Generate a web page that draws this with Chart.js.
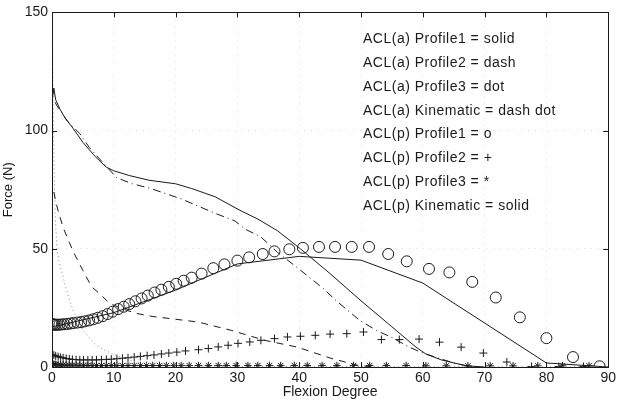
<!DOCTYPE html>
<html>
<head>
<meta charset="UTF-8">
<title>ACL force vs flexion</title>
<script src="https://cdn.jsdelivr.net/npm/chart.js@4.4.0/dist/chart.umd.min.js"></script>
<style>
  html, body { margin: 0; padding: 0; background: #fff; }
  #wrap { width: 619px; height: 401px; }
</style>
</head>
<body>
<div id="wrap"><canvas id="myChart" width="619" height="401"></canvas></div>
<script>
// ACL(a) Profile1 - solid
var a1Deg   = [0, 0.3, 0.6, 1.3, 2.2, 3.4, 5, 7, 8.8, 10, 12.5, 15.7, 20, 22.6, 26.4, 30.6, 33.3, 36.5, 40.2, 45, 50, 55, 58.9, 60.5, 63, 67, 70];
var a1Force = [112, 118, 113, 109, 105, 101, 95, 89, 84.5, 83, 81, 79, 77.5, 75.5, 72, 66, 62.6, 57.6, 50, 39.5, 28, 17, 8.4, 5.5, 3, 0.5, 0];
// ACL(a) Profile2 - dash
var a2Deg   = [0.3, 0.6, 1, 1.8, 2.6, 3.4, 5, 6.4, 7.7, 9.3, 11.5, 13.6, 16.2, 20, 23.7, 29, 34.4, 39.7, 45, 49.3, 52];
var a2Force = [74, 70, 66, 59, 54, 49, 40.8, 34, 31, 27, 24.5, 22.7, 21.4, 20.2, 19, 15.5, 11.3, 8.4, 3.8, 0.8, 0];
// ACL(a) Profile3 - dot
var a3Deg   = [0.05, 0.15, 0.3, 0.5, 0.8, 1.2, 1.8, 2.5, 3.4, 5, 7.2, 9.8, 14, 20, 30, 90];
var a3Force = [150, 120, 90, 65, 50, 44, 38, 31, 24, 15.5, 9, 5.5, 1.7, 0.5, 0.2, 0];
// ACL(a) Kinematic - dash dot
var aKDeg   = [0.5, 0.8, 2.5, 4.5, 6, 7.7, 10.5, 13, 16, 21, 26.4, 29.6, 31.2, 33.8, 36.5, 39.7, 44, 46, 49.8, 52.5, 55.2, 57.8, 60, 65, 68];
var aKForce = [112, 110.5, 104, 98.7, 93, 88, 80, 77.5, 75.5, 71, 65, 61.8, 58.4, 55, 48.5, 42, 33, 28, 19.7, 15.5, 12.2, 8.4, 5.9, 1.7, 0];
// ACL(p) Profile1 - o
var p1Deg   = [0, 0.2, 0.4, 0.6, 0.9, 1.2, 1.6, 2.0, 2.5, 3.0, 3.5, 4.1, 4.7, 5.3, 6.0, 6.7, 7.4, 8.2, 9.0, 9.8, 10.7, 11.6, 12.5, 13.5, 14.5, 15.5, 16.6, 17.7, 18.9, 20.1, 21.3, 22.6, 24.2, 26.1, 27.9, 30.0, 31.9, 34.1, 36.0, 38.4, 40.6, 43.2, 45.8, 48.5, 51.3, 54.4, 57.4, 61.0, 64.3, 68.0, 71.8, 75.7, 80.0, 84.3, 88.6];
var p1Force = [18.2, 18.0, 17.9, 17.9, 17.9, 17.9, 18.0, 18.1, 18.2, 18.4, 18.6, 18.8, 19.0, 19.3, 19.7, 20.2, 20.8, 21.5, 22.4, 23.4, 24.5, 25.5, 26.6, 27.8, 29.0, 30.2, 31.5, 32.7, 33.9, 35.2, 36.5, 37.8, 39.5, 41.8, 43.4, 45.0, 46.4, 47.8, 48.9, 49.8, 50.4, 50.8, 50.8, 50.8, 50.8, 47.8, 44.7, 41.5, 40.0, 36.0, 29.4, 21.0, 12.2, 4.2, 0.3];
// ACL(p) Profile2 - +
var p2Deg   = [0, 0.3, 0.6, 1, 1.4, 1.8, 2.3, 2.8, 3.3, 3.9, 4.5, 5.1, 5.8, 6.5, 7.2, 8, 8.8, 9.6, 10.5, 11.4, 12.3, 13.3, 14.3, 15.4, 16.5, 17.7, 18.9, 20.2, 21.6, 23.7, 25.3, 26.9, 28.5, 30.1, 32, 33.8, 36, 38.1, 40.2, 42.6, 45, 47.7, 50.4, 53.3, 56.2, 59.4, 62.7, 66.2, 69.8, 73.6, 77.6, 82, 86];
var p2Force = [5.2, 5.0, 4.7, 4.4, 4.1, 3.9, 3.6, 3.4, 3.2, 3.1, 3.0, 3.0, 3.0, 3.0, 3.0, 3.1, 3.2, 3.3, 3.5, 3.7, 3.9, 4.2, 4.5, 4.8, 5.1, 5.5, 5.9, 6.3, 6.8, 7.3, 7.8, 8.5, 9.2, 10.0, 10.6, 11.3, 12.0, 12.7, 13.0, 13.4, 13.9, 14.1, 14.8, 11.6, 11.6, 11.8, 10.5, 8.4, 5.9, 2.1, 0.2, 0.2, 0.2];
// ACL(p) Profile3 - *
var p3Deg   = [0, 0.3, 0.6, 1, 1.4, 1.8, 2.3, 2.8, 3.3, 3.9, 4.5, 5.1, 5.8, 6.5, 7.2, 8, 8.8, 9.6, 10.5, 11.4, 12.3, 13.3, 14.3, 15.3, 16.3, 17.4, 18.5, 19.7, 20.9, 22.2, 23.7, 25.3, 26.9, 28.2, 29.8, 31.7, 33.3, 35.2, 37, 39.2, 41.3, 43.7, 46.1, 48.8, 51.4, 54.1, 57.3, 60.5, 63.8, 67.3, 70.9, 74.6, 78.6, 82.6, 86.9];
var p3Force = [1.4, 1.2, 1.1, 1.0, 0.9, 0.9, 0.8, 0.8, 0.8, 0.7, 0.7, 0.7, 0.7, 0.6, 0.6, 0.6, 0.6, 0.6, 0.6, 0.6, 0.6, 0.6, 0.6, 0.6, 0.6, 0.6, 0.6, 0.6, 0.6, 0.6, 0.6, 0.6, 0.6, 0.6, 0.6, 0.6, 0.6, 0.6, 0.6, 0.6, 0.6, 0.6, 0.6, 0.6, 0.6, 0.6, 0.6, 0.5, 0.5, 0.5, 0.5, 0.5, 0.5, 0.5, 0.5];
// ACL(p) Kinematic - solid
var pKDeg   = [0, 1, 10, 20, 24, 30, 40, 50, 60, 80, 90];
var pKForce = [17, 17.5, 23, 32.5, 37, 43.6, 46.8, 45.2, 35.5, 1.7, 0];

var legendLines = [
    'ACL(a) Profile1 = solid',
    'ACL(a) Profile2 = dash',
    'ACL(a) Profile3 = dot',
    'ACL(a) Kinematic = dash dot',
    'ACL(p) Profile1 = o',
    'ACL(p) Profile2 = +',
    'ACL(p) Profile3 = *',
    'ACL(p) Kinematic = solid'
];

var ink = '#1a1a1a';
var font = '"Liberation Sans", Arial, sans-serif';

function pts(xs, ys) {
    return xs.map(function (x, i) { return {x: x, y: ys[i]}; });
}

function lineSet(xs, ys, dash, color) {
    return {
        data: pts(xs, ys),
        showLine: true,
        borderColor: color || ink,
        borderWidth: 1,
        borderDash: dash || [],
        pointRadius: 0,
        tension: 0,
        fill: false
    };
}

function markSet(xs, ys, style, radius) {
    return {
        data: pts(xs, ys),
        showLine: false,
        pointStyle: style,
        pointRadius: radius,
        pointBorderColor: ink,
        pointBackgroundColor: 'rgba(0,0,0,0)',
        pointBorderWidth: 1
    };
}

// frame, inward tick marks and the text key
var framePlugin = {
    id: 'frame',
    afterDraw: function (chart) {
        var ctx = chart.ctx, a = chart.chartArea;
        var x = chart.scales.x, y = chart.scales.y;
        ctx.save();
        ctx.strokeStyle = ink;
        ctx.lineWidth = 1;
        ctx.strokeRect(Math.round(a.left) + 0.5, Math.round(a.top) + 0.5,
            Math.round(a.right - a.left), Math.round(a.bottom - a.top));
        ctx.beginPath();
        x.ticks.forEach(function (t) {
            var px = Math.round(x.getPixelForValue(t.value)) + 0.5;
            ctx.moveTo(px, a.bottom); ctx.lineTo(px, a.bottom - 5);
            ctx.moveTo(px, a.top); ctx.lineTo(px, a.top + 5);
        });
        y.ticks.forEach(function (t) {
            var py = Math.round(y.getPixelForValue(t.value)) + 0.5;
            ctx.moveTo(a.left, py); ctx.lineTo(a.left + 5, py);
            ctx.moveTo(a.right, py); ctx.lineTo(a.right - 5, py);
        });
        ctx.stroke();

        ctx.fillStyle = ink;
        ctx.font = '14px ' + font;
        ctx.letterSpacing = '0.5px';
        ctx.textBaseline = 'middle';
        ctx.textAlign = 'left';
        legendLines.forEach(function (s, i) {
            ctx.fillText(s, a.left + 311, a.top + 27 + i * 23.8);
        });
        ctx.restore();
    }
};

var datasets = [
    lineSet(a1Deg, a1Force),
    lineSet(a2Deg, a2Force, [7, 6]),
    lineSet(a3Deg, a3Force, [1, 3], '#8a8a8a'),
    lineSet(aKDeg, aKForce, [8, 4, 1, 4]),
    markSet(p1Deg, p1Force, 'circle', 5.5),
    markSet(p2Deg, p2Force, 'cross', 4),
    markSet(p3Deg, p3Force, 'star', 3.8),
    lineSet(pKDeg, pKForce)
];

new Chart(document.getElementById('myChart'), {
    type: 'scatter',
    data: { datasets: datasets },
    options: {
        responsive: false,
        animation: false,
        layout: { padding: { top: 10, right: 5, left: 0, bottom: 0 } },
        plugins: { legend: { display: false }, tooltip: { enabled: false } },
        scales: {
            x: {
                type: 'linear',
                min: 0, max: 90,
                afterFit: function (s) { s.height = 34; },
                ticks: { stepSize: 10, color: ink, font: { family: font, size: 14 }, padding: 3, maxRotation: 0 },
                grid: { color: 'rgba(0,0,0,0.13)', drawTicks: false },
                border: { display: false, dash: [1, 6] },
                title: { display: true, text: 'Flexion Degree', color: ink, font: { family: font, size: 14 }, padding: { top: 0, bottom: 0 } }
            },
            y: {
                type: 'linear',
                min: 0, max: 150,
                afterFit: function (s) { s.width = 52; },
                ticks: { stepSize: 50, color: ink, font: { family: font, size: 14 }, padding: 4 },
                grid: { color: 'rgba(0,0,0,0.13)', drawTicks: false },
                border: { display: false, dash: [1, 6] },
                title: { display: true, text: 'Force (N)', color: ink, font: { family: font, size: 13 }, padding: { top: 1, bottom: 0 } }
            }
        }
    },
    plugins: [framePlugin]
});
</script>
</body>
</html>
